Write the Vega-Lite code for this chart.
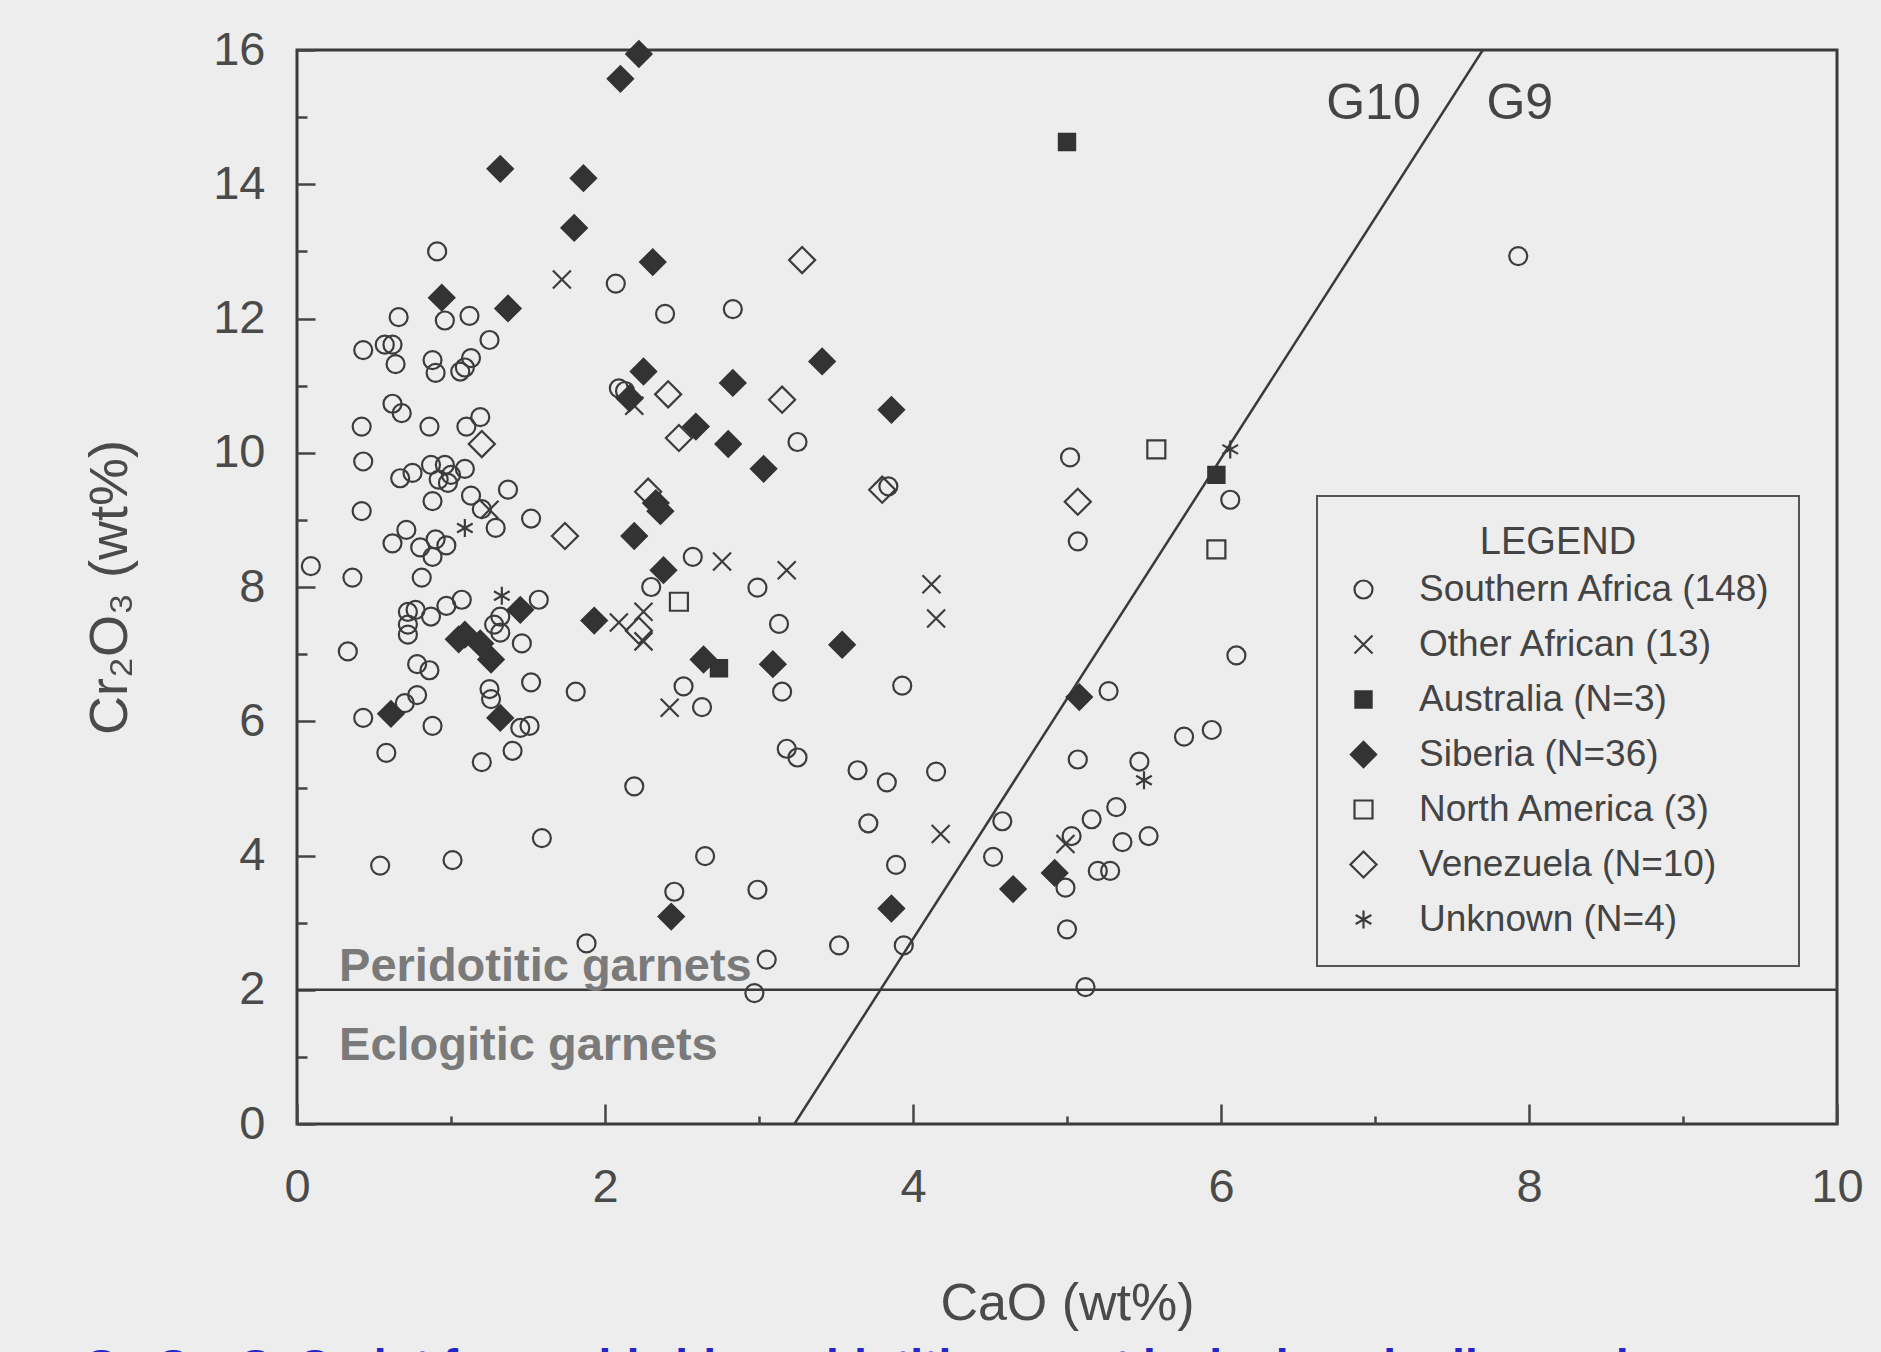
{
  "$schema": "https://vega.github.io/schema/vega-lite/v6.json",
  "usermeta": {"embedOptions": {"actions": false}},
  "width": 1540,
  "height": 1074,
  "autosize": {"type": "none"},
  "padding": {"left": 297, "top": 50, "right": 44, "bottom": 228},
  "background": "#ededed",
  "title": {
    "text": "Cr₂O₃–CaO plot for worldwide peridotitic garnet inclusions in diamonds",
    "orient": "bottom", "anchor": "start", "frame": "group", "dx": -213, "offset": 17,
    "font": "Liberation Sans", "fontSize": 46, "fontWeight": "bold", "color": "#2626c8"
  },
  "config": {
    "font": "Liberation Sans",
    "view": {"stroke": "#3a3a3a", "strokeWidth": 3},
    "legend": {"strokeWidth": 2, "symbolSize": 324, "symbolStrokeWidth": 2.2}
  },
  "encoding": {
    "x": {
      "field": "CaO", "type": "quantitative",
      "scale": {"domain": [0, 10], "nice": false, "zero": false},
      "axis": {
        "title": "CaO (wt%)", "values": [0, 1, 2, 3, 4, 5, 6, 7, 8, 9, 10],
        "domain": false, "grid": false,
        "tickSize": {"condition": {"test": "datum.value % 2 === 0", "value": -20}, "value": -8},
        "tickColor": "#444444", "tickWidth": 2.5,
        "labelExpr": "datum.value % 2 === 0 ? datum.label : ''",
        "labelPadding": 60, "labelFontSize": 47, "labelColor": "#4a4a4a",
        "labelFlush": false, "labelOverlap": false, "labelBound": false,
        "titleFontSize": 52, "titleFontWeight": "normal", "titleColor": "#4a4a4a", "titlePadding": 56
      }
    },
    "y": {
      "field": "Cr", "type": "quantitative",
      "scale": {"domain": [0, 16], "nice": false, "zero": false},
      "axis": {
        "title": "Cr₂O₃  (wt%)", "values": [0, 1, 2, 3, 4, 5, 6, 7, 8, 9, 10, 11, 12, 13, 14, 15, 16],
        "domain": false, "grid": false,
        "tickSize": {"condition": {"test": "datum.value % 2 === 0", "value": -18}, "value": -10},
        "tickColor": "#444444", "tickWidth": 2.5,
        "labelExpr": "datum.value % 2 === 0 ? datum.label : ''",
        "labelPadding": 50, "labelFontSize": 47, "labelColor": "#4a4a4a",
        "labelFlush": false, "labelOverlap": false, "labelBound": false,
        "titleFontSize": 54, "titleFontWeight": "normal", "titleColor": "#4a4a4a", "titlePadding": 75
      }
    }
  },
  "layer": [
    {
      "data": {"values": [
        {"line": "G10/G9", "CaO": 3.23, "Cr": 0},
        {"line": "G10/G9", "CaO": 7.7, "Cr": 16},
        {"line": "Cr2O3 = 2", "CaO": 0, "Cr": 2},
        {"line": "Cr2O3 = 2", "CaO": 10, "Cr": 2}
      ]},
      "mark": {"type": "line", "color": "#3a3a3a", "strokeWidth": 2.5, "clip": true},
      "encoding": {"detail": {"field": "line"}}
    },
    {
      "data": {"values": [
        {"r": "Southern Africa (148)", "CaO": 0.91, "Cr": 13.0},
        {"r": "Southern Africa (148)", "CaO": 2.07, "Cr": 12.52},
        {"r": "Southern Africa (148)", "CaO": 2.39, "Cr": 12.07},
        {"r": "Southern Africa (148)", "CaO": 2.83, "Cr": 12.14},
        {"r": "Southern Africa (148)", "CaO": 0.66, "Cr": 12.02},
        {"r": "Southern Africa (148)", "CaO": 0.96, "Cr": 11.97},
        {"r": "Southern Africa (148)", "CaO": 1.12, "Cr": 12.04},
        {"r": "Southern Africa (148)", "CaO": 1.25, "Cr": 11.68},
        {"r": "Southern Africa (148)", "CaO": 0.43, "Cr": 11.53},
        {"r": "Southern Africa (148)", "CaO": 0.57, "Cr": 11.61},
        {"r": "Southern Africa (148)", "CaO": 0.62, "Cr": 11.61},
        {"r": "Southern Africa (148)", "CaO": 0.64, "Cr": 11.32},
        {"r": "Southern Africa (148)", "CaO": 0.88, "Cr": 11.38},
        {"r": "Southern Africa (148)", "CaO": 0.90, "Cr": 11.19},
        {"r": "Southern Africa (148)", "CaO": 1.09, "Cr": 11.27},
        {"r": "Southern Africa (148)", "CaO": 1.13, "Cr": 11.41},
        {"r": "Southern Africa (148)", "CaO": 1.06, "Cr": 11.21},
        {"r": "Southern Africa (148)", "CaO": 2.09, "Cr": 10.96},
        {"r": "Southern Africa (148)", "CaO": 2.13, "Cr": 10.92},
        {"r": "Southern Africa (148)", "CaO": 0.62, "Cr": 10.73},
        {"r": "Southern Africa (148)", "CaO": 0.68, "Cr": 10.59},
        {"r": "Southern Africa (148)", "CaO": 0.42, "Cr": 10.39},
        {"r": "Southern Africa (148)", "CaO": 0.86, "Cr": 10.39},
        {"r": "Southern Africa (148)", "CaO": 1.10, "Cr": 10.39},
        {"r": "Southern Africa (148)", "CaO": 1.19, "Cr": 10.53},
        {"r": "Southern Africa (148)", "CaO": 3.25, "Cr": 10.16},
        {"r": "Southern Africa (148)", "CaO": 0.43, "Cr": 9.87},
        {"r": "Southern Africa (148)", "CaO": 0.67, "Cr": 9.62},
        {"r": "Southern Africa (148)", "CaO": 0.75, "Cr": 9.70},
        {"r": "Southern Africa (148)", "CaO": 0.87, "Cr": 9.82},
        {"r": "Southern Africa (148)", "CaO": 0.96, "Cr": 9.82},
        {"r": "Southern Africa (148)", "CaO": 1.00, "Cr": 9.67},
        {"r": "Southern Africa (148)", "CaO": 1.09, "Cr": 9.76},
        {"r": "Southern Africa (148)", "CaO": 0.92, "Cr": 9.60},
        {"r": "Southern Africa (148)", "CaO": 0.98, "Cr": 9.55},
        {"r": "Southern Africa (148)", "CaO": 0.88, "Cr": 9.28},
        {"r": "Southern Africa (148)", "CaO": 1.13, "Cr": 9.36},
        {"r": "Southern Africa (148)", "CaO": 1.37, "Cr": 9.45},
        {"r": "Southern Africa (148)", "CaO": 1.20, "Cr": 9.16},
        {"r": "Southern Africa (148)", "CaO": 0.42, "Cr": 9.13},
        {"r": "Southern Africa (148)", "CaO": 1.29, "Cr": 8.88},
        {"r": "Southern Africa (148)", "CaO": 1.52, "Cr": 9.02},
        {"r": "Southern Africa (148)", "CaO": 0.71, "Cr": 8.85},
        {"r": "Southern Africa (148)", "CaO": 0.62, "Cr": 8.65},
        {"r": "Southern Africa (148)", "CaO": 0.80, "Cr": 8.59},
        {"r": "Southern Africa (148)", "CaO": 0.90, "Cr": 8.71},
        {"r": "Southern Africa (148)", "CaO": 0.97, "Cr": 8.62},
        {"r": "Southern Africa (148)", "CaO": 0.88, "Cr": 8.45},
        {"r": "Southern Africa (148)", "CaO": 0.09, "Cr": 8.31},
        {"r": "Southern Africa (148)", "CaO": 0.36, "Cr": 8.14},
        {"r": "Southern Africa (148)", "CaO": 0.81, "Cr": 8.14},
        {"r": "Southern Africa (148)", "CaO": 2.57, "Cr": 8.45},
        {"r": "Southern Africa (148)", "CaO": 3.84, "Cr": 9.50},
        {"r": "Southern Africa (148)", "CaO": 5.02, "Cr": 9.93},
        {"r": "Southern Africa (148)", "CaO": 6.06, "Cr": 9.30},
        {"r": "Southern Africa (148)", "CaO": 5.07, "Cr": 8.68},
        {"r": "Southern Africa (148)", "CaO": 2.99, "Cr": 7.99},
        {"r": "Southern Africa (148)", "CaO": 1.57, "Cr": 7.81},
        {"r": "Southern Africa (148)", "CaO": 1.07, "Cr": 7.81},
        {"r": "Southern Africa (148)", "CaO": 0.97, "Cr": 7.72},
        {"r": "Southern Africa (148)", "CaO": 0.87, "Cr": 7.56},
        {"r": "Southern Africa (148)", "CaO": 1.32, "Cr": 7.56},
        {"r": "Southern Africa (148)", "CaO": 0.72, "Cr": 7.63},
        {"r": "Southern Africa (148)", "CaO": 0.77, "Cr": 7.66},
        {"r": "Southern Africa (148)", "CaO": 0.72, "Cr": 7.44},
        {"r": "Southern Africa (148)", "CaO": 0.72, "Cr": 7.29},
        {"r": "Southern Africa (148)", "CaO": 1.32, "Cr": 7.32},
        {"r": "Southern Africa (148)", "CaO": 1.28, "Cr": 7.44},
        {"r": "Southern Africa (148)", "CaO": 1.46, "Cr": 7.16},
        {"r": "Southern Africa (148)", "CaO": 0.33, "Cr": 7.04},
        {"r": "Southern Africa (148)", "CaO": 0.78, "Cr": 6.85},
        {"r": "Southern Africa (148)", "CaO": 0.86, "Cr": 6.76},
        {"r": "Southern Africa (148)", "CaO": 1.52, "Cr": 6.58},
        {"r": "Southern Africa (148)", "CaO": 1.25, "Cr": 6.48},
        {"r": "Southern Africa (148)", "CaO": 1.26, "Cr": 6.33},
        {"r": "Southern Africa (148)", "CaO": 1.81, "Cr": 6.44},
        {"r": "Southern Africa (148)", "CaO": 0.78, "Cr": 6.39},
        {"r": "Southern Africa (148)", "CaO": 0.70, "Cr": 6.27},
        {"r": "Southern Africa (148)", "CaO": 0.43, "Cr": 6.05},
        {"r": "Southern Africa (148)", "CaO": 0.88, "Cr": 5.93},
        {"r": "Southern Africa (148)", "CaO": 1.45, "Cr": 5.90},
        {"r": "Southern Africa (148)", "CaO": 1.51, "Cr": 5.93},
        {"r": "Southern Africa (148)", "CaO": 0.58, "Cr": 5.53},
        {"r": "Southern Africa (148)", "CaO": 1.20, "Cr": 5.39},
        {"r": "Southern Africa (148)", "CaO": 1.40, "Cr": 5.56},
        {"r": "Southern Africa (148)", "CaO": 2.19, "Cr": 5.03},
        {"r": "Southern Africa (148)", "CaO": 1.59, "Cr": 4.26},
        {"r": "Southern Africa (148)", "CaO": 0.54, "Cr": 3.85},
        {"r": "Southern Africa (148)", "CaO": 1.01, "Cr": 3.93},
        {"r": "Southern Africa (148)", "CaO": 2.45, "Cr": 3.46},
        {"r": "Southern Africa (148)", "CaO": 1.88, "Cr": 2.69},
        {"r": "Southern Africa (148)", "CaO": 2.30, "Cr": 8.00},
        {"r": "Southern Africa (148)", "CaO": 3.13, "Cr": 7.45},
        {"r": "Southern Africa (148)", "CaO": 2.51, "Cr": 6.52},
        {"r": "Southern Africa (148)", "CaO": 2.63, "Cr": 6.21},
        {"r": "Southern Africa (148)", "CaO": 3.15, "Cr": 6.44},
        {"r": "Southern Africa (148)", "CaO": 3.93, "Cr": 6.53},
        {"r": "Southern Africa (148)", "CaO": 6.10, "Cr": 6.98},
        {"r": "Southern Africa (148)", "CaO": 5.27, "Cr": 6.45},
        {"r": "Southern Africa (148)", "CaO": 5.76, "Cr": 5.77},
        {"r": "Southern Africa (148)", "CaO": 5.94, "Cr": 5.87},
        {"r": "Southern Africa (148)", "CaO": 5.07, "Cr": 5.43},
        {"r": "Southern Africa (148)", "CaO": 3.18, "Cr": 5.59},
        {"r": "Southern Africa (148)", "CaO": 3.25, "Cr": 5.46},
        {"r": "Southern Africa (148)", "CaO": 3.64, "Cr": 5.27},
        {"r": "Southern Africa (148)", "CaO": 3.83, "Cr": 5.09},
        {"r": "Southern Africa (148)", "CaO": 4.15, "Cr": 5.25},
        {"r": "Southern Africa (148)", "CaO": 5.47, "Cr": 5.40},
        {"r": "Southern Africa (148)", "CaO": 5.32, "Cr": 4.72},
        {"r": "Southern Africa (148)", "CaO": 5.16, "Cr": 4.54},
        {"r": "Southern Africa (148)", "CaO": 4.58, "Cr": 4.51},
        {"r": "Southern Africa (148)", "CaO": 3.71, "Cr": 4.48},
        {"r": "Southern Africa (148)", "CaO": 5.03, "Cr": 4.29},
        {"r": "Southern Africa (148)", "CaO": 5.36, "Cr": 4.20},
        {"r": "Southern Africa (148)", "CaO": 5.53, "Cr": 4.29},
        {"r": "Southern Africa (148)", "CaO": 4.52, "Cr": 3.98},
        {"r": "Southern Africa (148)", "CaO": 2.65, "Cr": 3.99},
        {"r": "Southern Africa (148)", "CaO": 3.89, "Cr": 3.86},
        {"r": "Southern Africa (148)", "CaO": 5.20, "Cr": 3.77},
        {"r": "Southern Africa (148)", "CaO": 5.28, "Cr": 3.77},
        {"r": "Southern Africa (148)", "CaO": 4.99, "Cr": 3.52},
        {"r": "Southern Africa (148)", "CaO": 2.99, "Cr": 3.49},
        {"r": "Southern Africa (148)", "CaO": 5.00, "Cr": 2.90},
        {"r": "Southern Africa (148)", "CaO": 3.52, "Cr": 2.66},
        {"r": "Southern Africa (148)", "CaO": 3.94, "Cr": 2.66},
        {"r": "Southern Africa (148)", "CaO": 3.05, "Cr": 2.45},
        {"r": "Southern Africa (148)", "CaO": 2.97, "Cr": 1.95},
        {"r": "Southern Africa (148)", "CaO": 5.12, "Cr": 2.04},
        {"r": "Southern Africa (148)", "CaO": 7.93, "Cr": 12.93},
        {"r": "Other African (13)", "CaO": 1.72, "Cr": 12.58},
        {"r": "Other African (13)", "CaO": 2.19, "Cr": 10.70},
        {"r": "Other African (13)", "CaO": 2.09, "Cr": 7.47},
        {"r": "Other African (13)", "CaO": 2.25, "Cr": 7.63},
        {"r": "Other African (13)", "CaO": 2.25, "Cr": 7.19},
        {"r": "Other African (13)", "CaO": 2.42, "Cr": 6.20},
        {"r": "Other African (13)", "CaO": 2.76, "Cr": 8.38},
        {"r": "Other African (13)", "CaO": 3.18, "Cr": 8.25},
        {"r": "Other African (13)", "CaO": 4.12, "Cr": 8.04},
        {"r": "Other African (13)", "CaO": 4.15, "Cr": 7.53},
        {"r": "Other African (13)", "CaO": 4.18, "Cr": 4.32},
        {"r": "Other African (13)", "CaO": 4.99, "Cr": 4.17},
        {"r": "Other African (13)", "CaO": 1.25, "Cr": 9.15},
        {"r": "North America (3)", "CaO": 5.58, "Cr": 10.05},
        {"r": "North America (3)", "CaO": 5.97, "Cr": 8.56},
        {"r": "North America (3)", "CaO": 2.48, "Cr": 7.78},
        {"r": "Venezuela (N=10)", "CaO": 2.41, "Cr": 10.87},
        {"r": "Venezuela (N=10)", "CaO": 2.48, "Cr": 10.22},
        {"r": "Venezuela (N=10)", "CaO": 1.20, "Cr": 10.13},
        {"r": "Venezuela (N=10)", "CaO": 1.74, "Cr": 8.76},
        {"r": "Venezuela (N=10)", "CaO": 2.28, "Cr": 9.42},
        {"r": "Venezuela (N=10)", "CaO": 3.28, "Cr": 12.87},
        {"r": "Venezuela (N=10)", "CaO": 3.15, "Cr": 10.79},
        {"r": "Venezuela (N=10)", "CaO": 3.80, "Cr": 9.45},
        {"r": "Venezuela (N=10)", "CaO": 5.07, "Cr": 9.27},
        {"r": "Venezuela (N=10)", "CaO": 2.22, "Cr": 7.35},
        {"r": "Unknown (N=4)", "CaO": 1.09, "Cr": 8.88},
        {"r": "Unknown (N=4)", "CaO": 1.33, "Cr": 7.87},
        {"r": "Unknown (N=4)", "CaO": 5.50, "Cr": 5.12},
        {"r": "Unknown (N=4)", "CaO": 6.06, "Cr": 10.05},
        {"r": "Australia (N=3)", "CaO": 5.00, "Cr": 14.63},
        {"r": "Australia (N=3)", "CaO": 5.97, "Cr": 9.67},
        {"r": "Australia (N=3)", "CaO": 2.74, "Cr": 6.79},
        {"r": "Siberia (N=36)", "CaO": 2.22, "Cr": 15.94},
        {"r": "Siberia (N=36)", "CaO": 2.10, "Cr": 15.57},
        {"r": "Siberia (N=36)", "CaO": 1.32, "Cr": 14.23},
        {"r": "Siberia (N=36)", "CaO": 1.86, "Cr": 14.09},
        {"r": "Siberia (N=36)", "CaO": 1.80, "Cr": 13.35},
        {"r": "Siberia (N=36)", "CaO": 2.31, "Cr": 12.84},
        {"r": "Siberia (N=36)", "CaO": 0.94, "Cr": 12.31},
        {"r": "Siberia (N=36)", "CaO": 1.37, "Cr": 12.15},
        {"r": "Siberia (N=36)", "CaO": 2.25, "Cr": 11.21},
        {"r": "Siberia (N=36)", "CaO": 2.16, "Cr": 10.81},
        {"r": "Siberia (N=36)", "CaO": 2.59, "Cr": 10.39},
        {"r": "Siberia (N=36)", "CaO": 2.19, "Cr": 8.76},
        {"r": "Siberia (N=36)", "CaO": 2.36, "Cr": 9.13},
        {"r": "Siberia (N=36)", "CaO": 2.33, "Cr": 9.25},
        {"r": "Siberia (N=36)", "CaO": 2.38, "Cr": 8.25},
        {"r": "Siberia (N=36)", "CaO": 1.45, "Cr": 7.66},
        {"r": "Siberia (N=36)", "CaO": 1.09, "Cr": 7.29},
        {"r": "Siberia (N=36)", "CaO": 1.05, "Cr": 7.22},
        {"r": "Siberia (N=36)", "CaO": 1.19, "Cr": 7.16},
        {"r": "Siberia (N=36)", "CaO": 1.26, "Cr": 6.92},
        {"r": "Siberia (N=36)", "CaO": 0.61, "Cr": 6.11},
        {"r": "Siberia (N=36)", "CaO": 1.32, "Cr": 6.05},
        {"r": "Siberia (N=36)", "CaO": 2.43, "Cr": 3.09},
        {"r": "Siberia (N=36)", "CaO": 1.93, "Cr": 7.50},
        {"r": "Siberia (N=36)", "CaO": 2.64, "Cr": 6.92},
        {"r": "Siberia (N=36)", "CaO": 3.41, "Cr": 11.36},
        {"r": "Siberia (N=36)", "CaO": 2.83, "Cr": 11.04},
        {"r": "Siberia (N=36)", "CaO": 3.86, "Cr": 10.64},
        {"r": "Siberia (N=36)", "CaO": 2.80, "Cr": 10.13},
        {"r": "Siberia (N=36)", "CaO": 3.03, "Cr": 9.76},
        {"r": "Siberia (N=36)", "CaO": 3.54, "Cr": 7.14},
        {"r": "Siberia (N=36)", "CaO": 3.09, "Cr": 6.85},
        {"r": "Siberia (N=36)", "CaO": 5.08, "Cr": 6.36},
        {"r": "Siberia (N=36)", "CaO": 4.92, "Cr": 3.74},
        {"r": "Siberia (N=36)", "CaO": 4.65, "Cr": 3.50},
        {"r": "Siberia (N=36)", "CaO": 3.86, "Cr": 3.21}
      ]},
      "mark": {"type": "point", "strokeWidth": 2.2, "opacity": 1, "size": 324},
      "encoding": {
        "shape": {
          "field": "r", "type": "nominal",
          "scale": {
            "domain": ["Southern Africa (148)", "Other African (13)", "Australia (N=3)", "Siberia (N=36)", "North America (3)", "Venezuela (N=10)", "Unknown (N=4)"],
            "range": ["circle", "M-1,-1L1,1M-1,1L1,-1", "M-0.9,-0.9H0.9V0.9H-0.9Z", "M-1.4,0L0,-1.4L1.4,0L0,1.4Z", "M-1,-1H1V1H-1Z", "M-1.45,0L0,-1.45L1.45,0L0,1.45Z", "M0,-1L0,1M-0.87,-0.5L0.87,0.5M-0.87,0.5L0.87,-0.5"]
          },
          "legend": {
            "orient": "none", "legendX": 1020, "legendY": 446,
            "title": "LEGEND", "titleFontSize": 38, "titleFontWeight": "normal", "titleColor": "#444444",
            "titleAnchor": "middle", "titlePadding": 9,
            "labelFontSize": 37, "labelColor": "#444444", "labelOffset": 37, "labelLimit": 0,
            "padding": 28, "rowPadding": 17, "strokeColor": "#555555", "symbolStrokeWidth": 2.2
          }
        },
        "fill": {
          "field": "r", "type": "nominal",
          "scale": {
            "domain": ["Southern Africa (148)", "Other African (13)", "Australia (N=3)", "Siberia (N=36)", "North America (3)", "Venezuela (N=10)", "Unknown (N=4)"],
            "range": ["transparent", "transparent", "#333333", "#333333", "transparent", "transparent", "transparent"]
          },
          "legend": {
            "orient": "none", "legendX": 1020, "legendY": 446,
            "title": "LEGEND", "titleFontSize": 38, "titleFontWeight": "normal", "titleColor": "#444444",
            "titleAnchor": "middle", "titlePadding": 9,
            "labelFontSize": 37, "labelColor": "#444444", "labelOffset": 37, "labelLimit": 0,
            "padding": 28, "rowPadding": 17, "strokeColor": "#555555", "symbolStrokeWidth": 2.2
          }
        },
        "stroke": {
          "field": "r", "type": "nominal",
          "scale": {
            "domain": ["Southern Africa (148)", "Other African (13)", "Australia (N=3)", "Siberia (N=36)", "North America (3)", "Venezuela (N=10)", "Unknown (N=4)"],
            "range": ["#3c3c3c", "#3c3c3c", "#333333", "#333333", "#3c3c3c", "#3c3c3c", "#3c3c3c"]
          },
          "legend": {
            "orient": "none", "legendX": 1020, "legendY": 446,
            "title": "LEGEND", "titleFontSize": 38, "titleFontWeight": "normal", "titleColor": "#444444",
            "titleAnchor": "middle", "titlePadding": 9,
            "labelFontSize": 37, "labelColor": "#444444", "labelOffset": 37, "labelLimit": 0,
            "padding": 28, "rowPadding": 17, "strokeColor": "#555555", "symbolStrokeWidth": 2.2
          }
        }
      }
    },
    {
      "data": {"values": [
        {"t": "G10", "CaO": 6.99, "Cr": 15.2},
        {"t": "G9", "CaO": 7.94, "Cr": 15.2}
      ]},
      "mark": {"type": "text", "fontSize": 50, "color": "#444444", "align": "center", "baseline": "middle"},
      "encoding": {"text": {"field": "t"}}
    },
    {
      "data": {"values": [
        {"t": "Peridotitic garnets", "CaO": 0.273, "Cr": 2.13},
        {"t": "Eclogitic garnets", "CaO": 0.273, "Cr": 0.95}
      ]},
      "mark": {"type": "text", "fontSize": 47, "fontWeight": "bold", "color": "#7a7a7a", "align": "left", "baseline": "alphabetic"},
      "encoding": {"text": {"field": "t"}}
    }
  ]
}
